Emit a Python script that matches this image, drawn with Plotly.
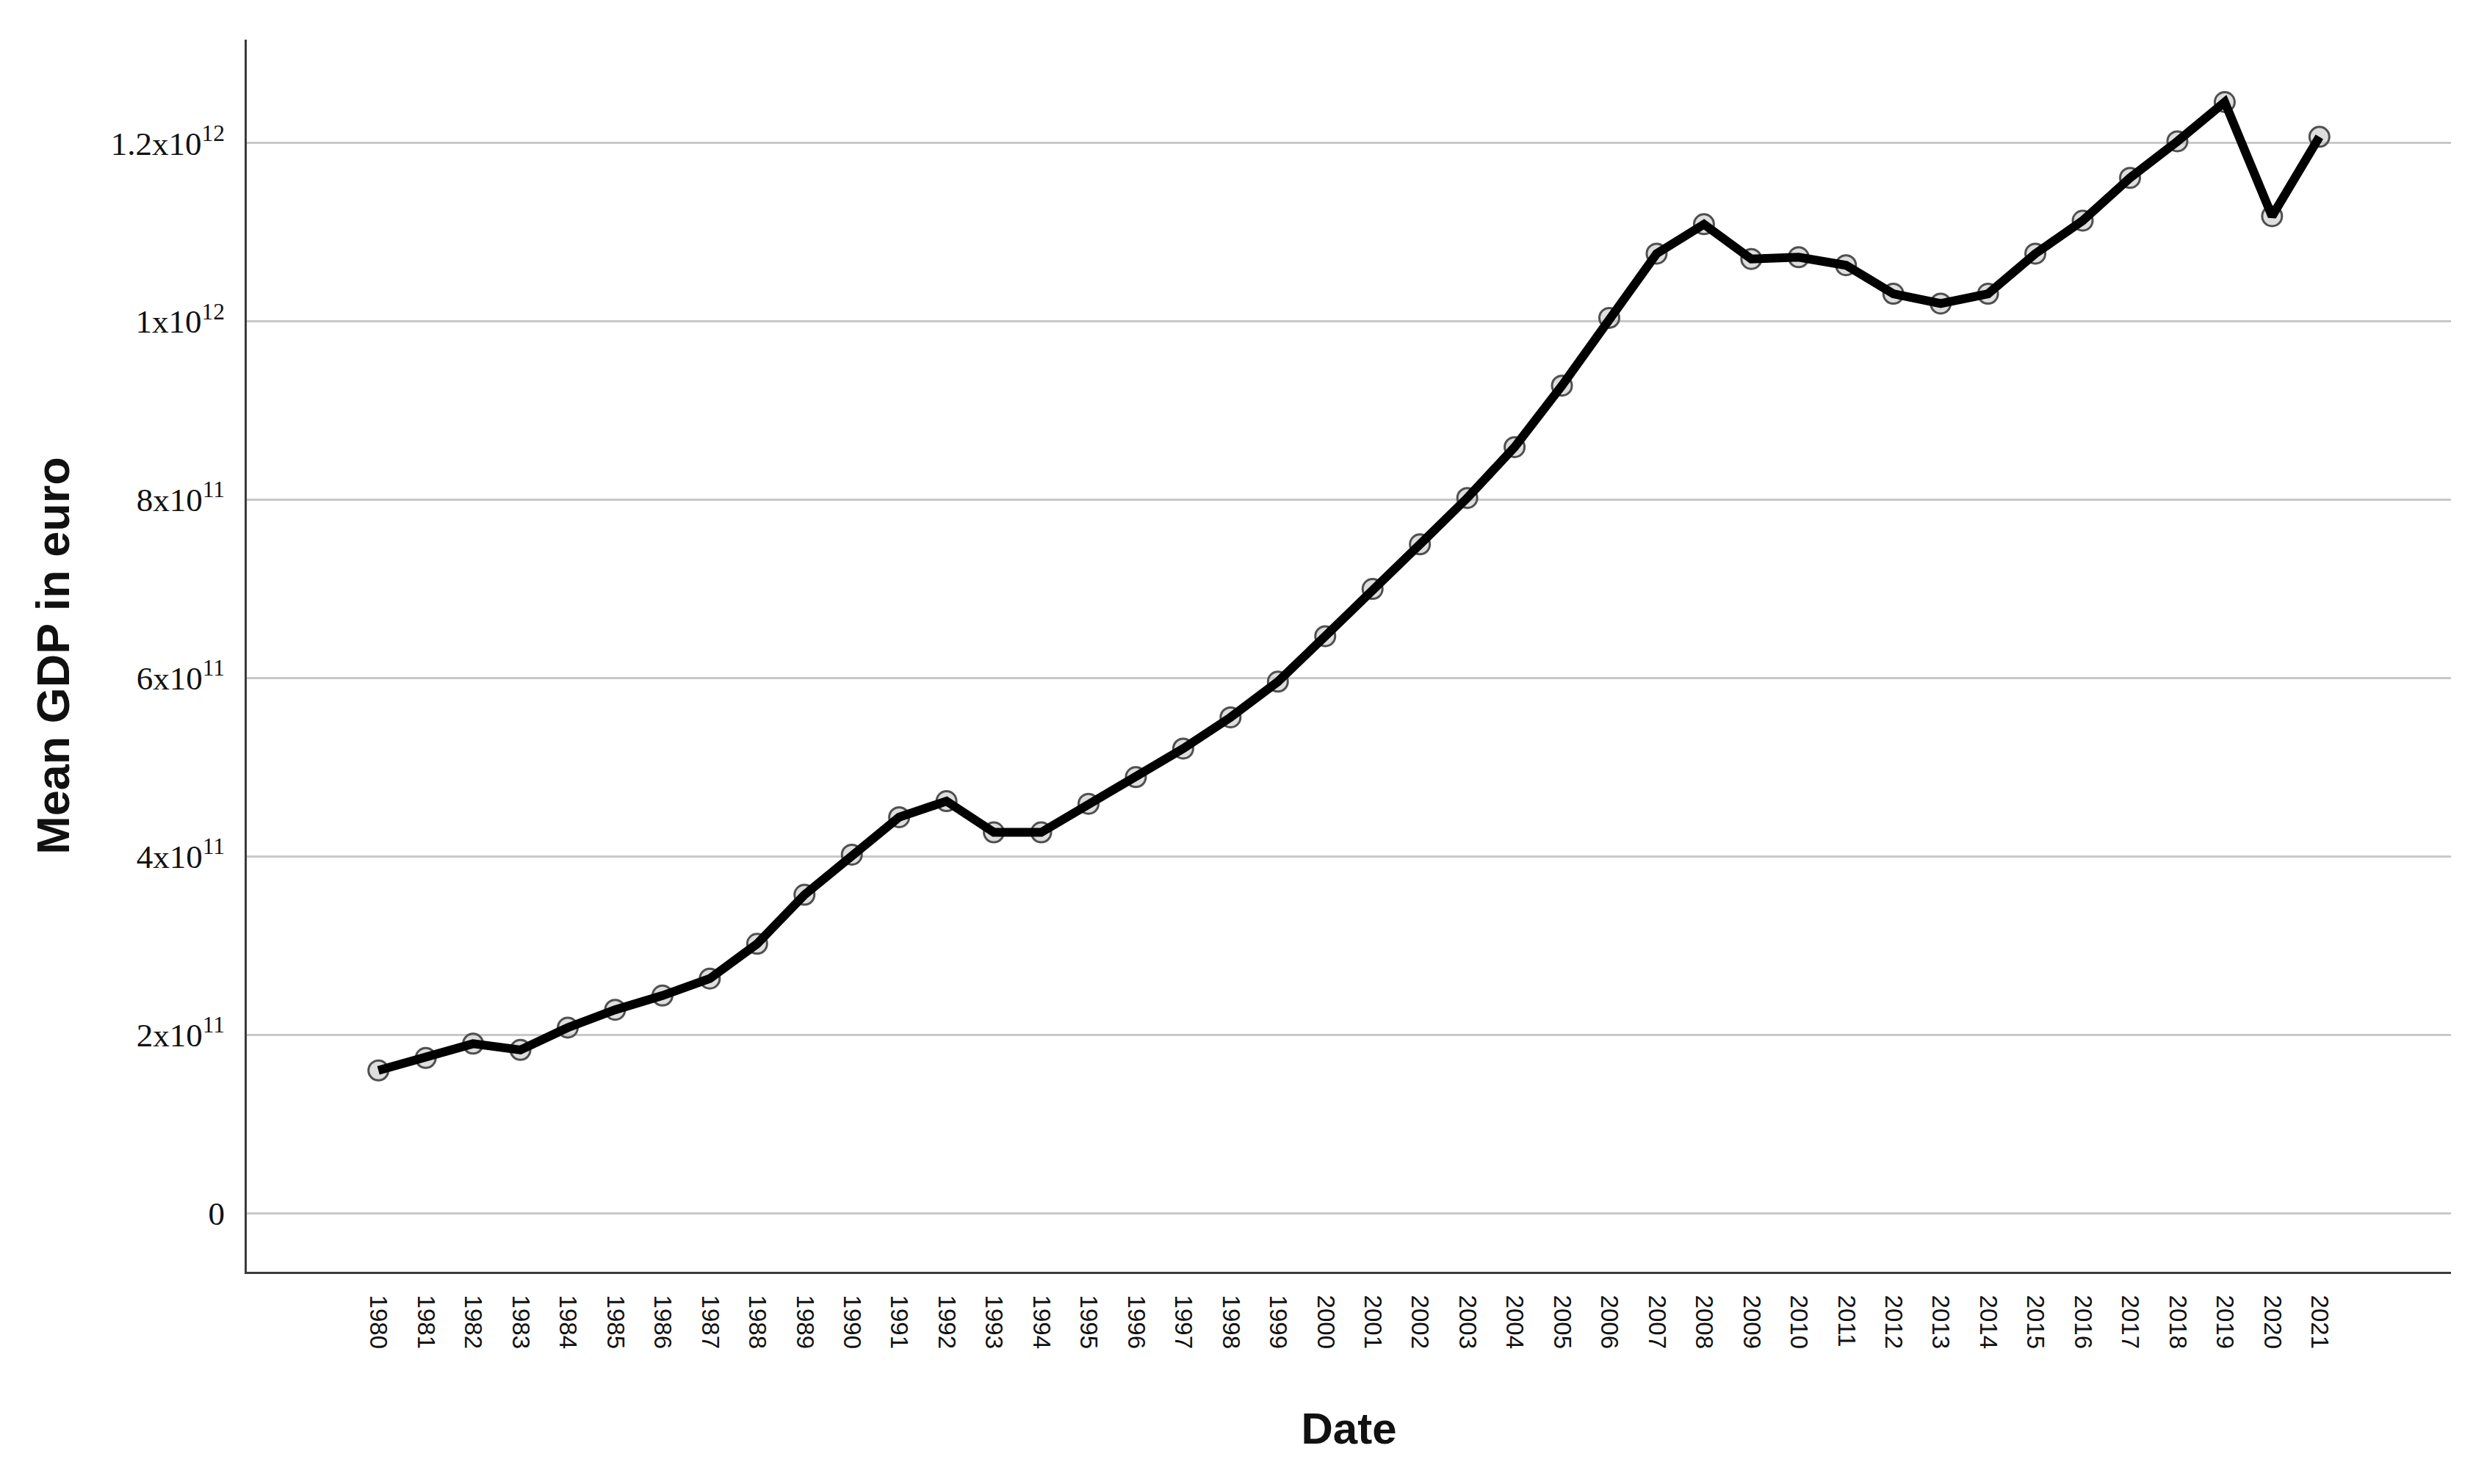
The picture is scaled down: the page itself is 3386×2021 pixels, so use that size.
import plotly.graph_objects as go

years = list(range(1980, 2022))
gdp = [1.60e11, 1.74e11, 1.90e11, 1.83e11, 2.08e11, 2.28e11, 2.44e11, 2.63e11,
       3.02e11, 3.57e11, 4.02e11, 4.44e11, 4.62e11, 4.27e11, 4.27e11, 4.59e11,
       4.89e11, 5.21e11, 5.56e11, 5.96e11, 6.47e11, 7.00e11, 7.50e11, 8.02e11,
       8.59e11, 9.28e11, 1.004e12, 1.076e12, 1.109e12, 1.070e12, 1.072e12, 1.063e12,
       1.031e12, 1.020e12, 1.031e12, 1.076e12, 1.113e12, 1.161e12, 1.202e12, 1.246e12,
       1.118e12, 1.207e12]
x_labels = [str(y) for y in years]
y_ticks = [0, 2e11, 4e11, 6e11, 8e11, 1e12, 1.2e12]
y_labels = ["0", "2x10<sup>11</sup>", "4x10<sup>11</sup>", "6x10<sup>11</sup>",
            "8x10<sup>11</sup>", "1x10<sup>12</sup>", "1.2x10<sup>12</sup>"]

fig = go.Figure()
fig.add_trace(go.Scatter(
    x=years, y=gdp, mode="markers",
    marker=dict(symbol="circle", size=27, color="rgba(190,190,190,0.5)",
                line=dict(color="#505050", width=3)),
    showlegend=False, hoverinfo="skip"))
fig.add_trace(go.Scatter(
    x=years, y=gdp, mode="lines",
    line=dict(color="#000000", width=12),
    showlegend=False))

fig.update_layout(
    width=3386, height=2021,
    margin=dict(l=328, r=57, t=46, b=297),
    paper_bgcolor="white", plot_bgcolor="white",
    xaxis=dict(
        range=[1977.22, 2023.78],
        tickmode="array", tickvals=years, ticktext=x_labels,
        tickangle=90, ticks="", showgrid=False, zeroline=False,
        showline=True, linecolor="#3c3c3c", linewidth=3, mirror=False,
        tickfont=dict(family="Liberation Sans", size=33, color="#111"),
        ticklabelstandoff=22,
        title=dict(text="<b>Date</b>", standoff=88,
                   font=dict(family="Liberation Sans", size=60, color="#111")),
        automargin=False,
    ),
    yaxis=dict(
        range=[-0.658e11, 1.316e12],
        tickmode="array", tickvals=y_ticks, ticktext=y_labels,
        ticks="", showgrid=True, gridcolor="#c8c8c8", gridwidth=3,
        zeroline=False,
        showline=True, linecolor="#3c3c3c", linewidth=3, mirror=False,
        tickfont=dict(family="Liberation Serif", size=45, color="#111"),
        ticklabelstandoff=18,
        title=dict(text="<b>Mean GDP in euro</b>", standoff=36,
                   font=dict(family="Liberation Sans", size=63, color="#111")),
        automargin=False,
    ),
)

fig.write_html("out.html")
